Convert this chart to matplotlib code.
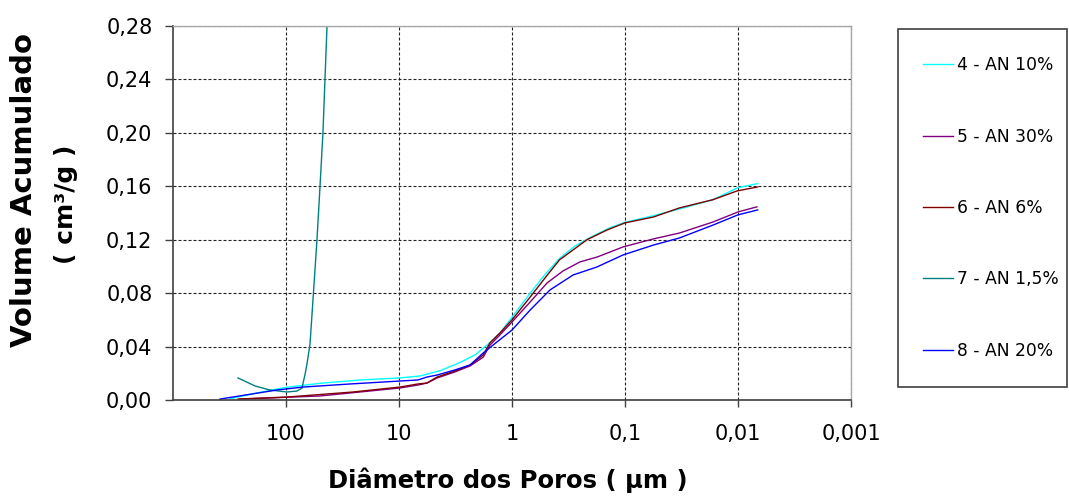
import numpy as np
import matplotlib
matplotlib.use("Agg")
import matplotlib.pyplot as plt
from matplotlib.patches import Rectangle

# pore diameter (um) and cumulative volume (cm3/g)
d_an10 = [313, 188, 100, 50, 22, 10, 6.5, 4.3, 2.9, 2.1, 1.57, 1.28, 1.0, 0.69, 0.51,
          0.38, 0.28, 0.20, 0.136, 0.10, 0.056, 0.033, 0.0166, 0.010, 0.0067]
v_an10 = [0.001, 0.005, 0.0095, 0.0125, 0.015, 0.0165, 0.018, 0.022, 0.028, 0.034, 0.043,
          0.050, 0.062, 0.080, 0.094, 0.106, 0.115, 0.122, 0.129, 0.133, 0.138, 0.143,
          0.150, 0.159, 0.162]

d_an30 = [255, 50, 9.8, 6.8, 5.65, 4.6, 3.2, 2.35, 1.8, 1.57, 1.28, 1.0, 0.69, 0.49, 0.354,
          0.25, 0.177, 0.104, 0.056, 0.033, 0.0166, 0.010, 0.0068]
v_an30 = [0.0007, 0.003, 0.009, 0.0112, 0.0127, 0.0165, 0.021, 0.0255, 0.032, 0.041, 0.0487,
          0.0584, 0.0734, 0.0876, 0.0966, 0.1034, 0.107, 0.1146, 0.1206, 0.125, 0.1333,
          0.1408, 0.1446]

d_an6 = [266, 98, 25.5, 9.8, 6.8, 5.65, 4.6, 3.2, 2.35, 1.8, 1.57, 1.28, 1.0, 0.69, 0.51,
         0.38, 0.217, 0.144, 0.10, 0.056, 0.033, 0.0166, 0.0102, 0.0067]
v_an6 = [0.0007, 0.0022, 0.006, 0.0097, 0.012, 0.0127, 0.0172, 0.0217, 0.0262, 0.0337, 0.0427,
         0.0502, 0.060, 0.0771, 0.0914, 0.1049, 0.120, 0.1273, 0.1326, 0.137, 0.1438, 0.150,
         0.1565, 0.1595]

d_an15 = [266, 188, 139, 98, 80, 72, 70.6, 67.9, 65.2, 61.3, 57.7, 53.2, 50, 47.1, 45.2, 43.4, 41.6]
v_an15 = [0.0165, 0.0105, 0.0075, 0.006, 0.0067, 0.009, 0.0127, 0.019, 0.027, 0.042, 0.075,
          0.120, 0.160, 0.200, 0.240, 0.279, 0.30]

d_an20 = [384, 120, 70.6, 27.1, 9.8, 6.8, 5.65, 4.6, 3.2, 2.35, 1.8, 1.36, 1.0, 0.69, 0.461,
          0.288, 0.177, 0.104, 0.056, 0.033, 0.0166, 0.010, 0.0067]
v_an20 = [0.0007, 0.0075, 0.0097, 0.012, 0.0142, 0.015, 0.0172, 0.0187, 0.0225, 0.0262, 0.0352,
          0.0434, 0.0524, 0.0674, 0.0824, 0.0936, 0.0996, 0.1086, 0.116, 0.1213, 0.131, 0.1386,
          0.1423]

series = [
    ("4 - AN 10%", d_an10, v_an10, "#00FFFF"),
    ("5 - AN 30%", d_an30, v_an30, "#800080"),
    ("6 - AN 6%", d_an6, v_an6, "#800000"),
    ("7 - AN 1,5%", d_an15, v_an15, "#008080"),
    ("8 - AN 20%", d_an20, v_an20, "#0000FF"),
]

x_ticks = [100, 10, 1, 0.1, 0.01, 0.001]
x_ticklabels = ["100", "10", "1", "0,1", "0,01", "0,001"]
y_ticks = [0.00, 0.04, 0.08, 0.12, 0.16, 0.20, 0.24, 0.28]

W, H = 1069, 498
fig = plt.figure(figsize=(W / 100, H / 100), dpi=100)
ax = fig.add_axes([173 / W, (H - 400) / H, (851 - 173) / W, (400 - 26) / H])

for name, d, v, c in series:
    ax.plot(d, v, color=c, lw=1.0, label=name)

ax.set_xscale("log")
ax.set_xlim(1000, 0.001)
ax.set_ylim(0, 0.28)
ax.set_xticks(x_ticks)
ax.set_xticklabels(x_ticklabels)
ax.xaxis.set_minor_locator(matplotlib.ticker.NullLocator())
ax.set_yticks(y_ticks)
ax.set_yticklabels([("%.2f" % t).replace(".", ",") for t in y_ticks])

ax.grid(True, color="#222222", lw=0.8, ls=(0, (2.7, 1.8)))
ax.set_axisbelow(True)

for s in ["left", "bottom"]:
    ax.spines[s].set_color("#404040")
    ax.spines[s].set_linewidth(1.2)
for s in ["top", "right"]:
    ax.spines[s].set_color("#A8A8A8")
    ax.spines[s].set_linewidth(1.0)

ax.tick_params(axis="y", direction="out", length=5.8, width=1, color="#404040",
               pad=9, labelsize=15)
ax.tick_params(axis="x", direction="out", length=5, width=1, color="#404040",
               pad=12, labelsize=15)

fig.text(24 / W, 1 - 190 / H, "Volume Acumulado", rotation=90, ha="center", va="center",
         fontsize=21, fontweight="bold")
fig.text(66 / W, 1 - 204 / H, "( cm³/g )", rotation=90, ha="center", va="center",
         fontsize=18, fontweight="bold")
fig.text(508 / W, 1 - 480 / H, "Diâmetro dos Poros ( µm )", ha="center", va="center",
         fontsize=17.5, fontweight="bold")

# legend frame drawn by hand, entries placed by legend
fig.patches.append(Rectangle((898 / W, 1 - 387 / H), (1067 - 898) / W, (387 - 29) / H,
                             transform=fig.transFigure, fill=False, ec="#404040", lw=1.2))
fig.legend(loc="center left", bbox_to_anchor=(923 / W, 1 - 208 / H), frameon=False,
           fontsize=12.3, borderpad=0, borderaxespad=0, handlelength=1.75,
           handletextpad=0.25, labelspacing=3.13)

fig.savefig("out.png", dpi=100)
